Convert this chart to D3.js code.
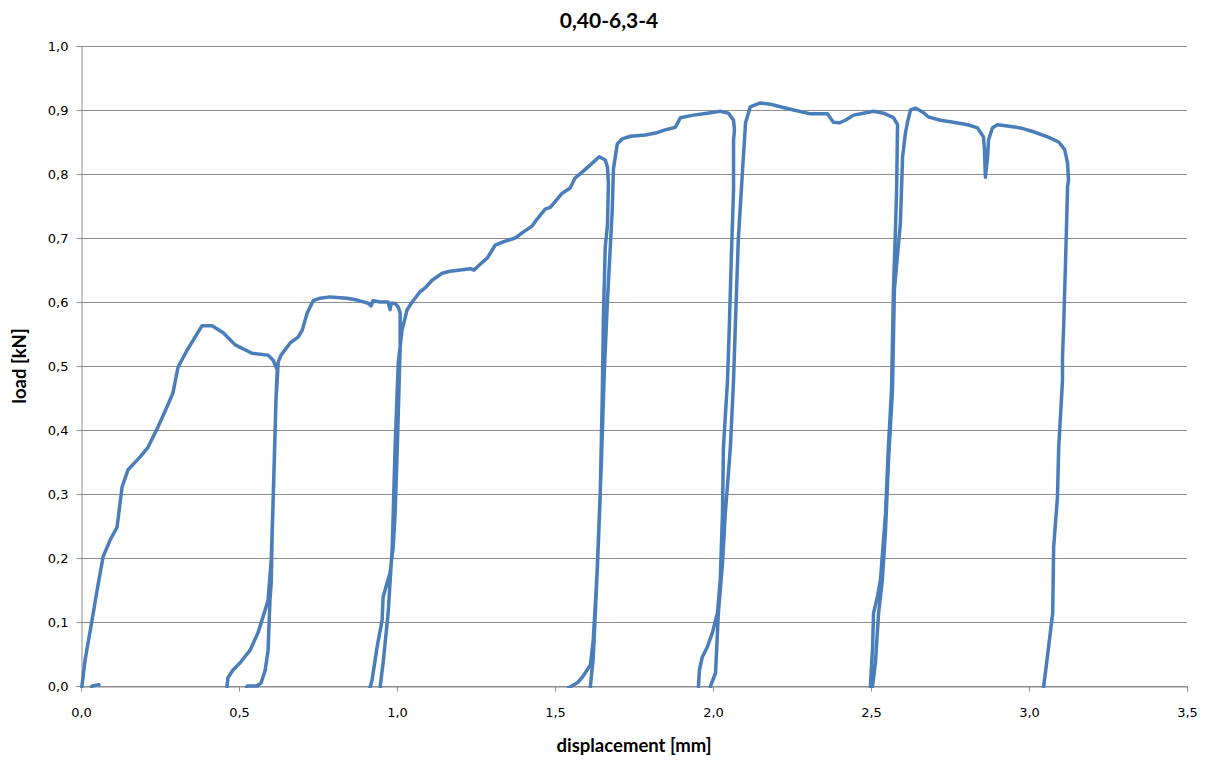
<!DOCTYPE html>
<html lang="en">
  <head>
    <meta charset="utf-8" />
    <title>0,40-6,3-4 load / displacement</title>
    <script src="https://cdn.jsdelivr.net/npm/d3@7"></script>
    <style>
      body { margin: 0; background: #fff; }
      text { fill: #000; }
    </style>
  </head>
  <body>
    <div id="chart"></div>
    <script>
      // chart text
      const chartTitle = "0,40-6,3-4";
      const xTitle = "displacement [mm]";
      const yTitle = "load [kN]";

      // tick values
      const xTicks = [0, 0.5, 1.0, 1.5, 2.0, 2.5, 3.0, 3.5];
      const yTicks = [0, 0.1, 0.2, 0.3, 0.4, 0.5, 0.6, 0.7, 0.8, 0.9, 1.0];

      const dispX = [
        0.057, 0.035, 0.030, 0.002, 0.003, 0.013, 0.035, 0.051, 0.070, 0.092, 0.114, 0.130, 0.149, 0.187, 0.212, 0.244,
        0.272, 0.291, 0.307, 0.336, 0.361, 0.383, 0.415, 0.450, 0.488, 0.541, 0.592, 0.608, 0.621,
        0.617, 0.614, 0.608, 0.602, 0.592, 0.576, 0.560, 0.535, 0.503, 0.481, 0.465, 0.462, 0.462, 0.519, 0.526, 0.557,
        0.570, 0.583, 0.592, 0.598, 0.602, 0.605, 0.611, 0.617, 0.621, 0.624, 0.633, 0.662, 0.687, 0.700, 0.716, 0.735,
        0.757, 0.788, 0.842, 0.874, 0.909, 0.918, 0.924, 0.947, 0.972, 0.978, 0.982, 0.994, 1.004, 1.010,
        1.010, 1.001, 0.994, 0.988, 0.978, 0.956, 0.953, 0.937, 0.921, 0.915, 0.912, 0.947,
        0.947, 0.956, 0.972, 0.985, 0.994, 1.004, 1.016, 1.032, 1.048, 1.073, 1.089, 1.111, 1.143, 1.168, 1.200, 1.232,
        1.244, 1.263, 1.286, 1.311, 1.336, 1.374, 1.396, 1.428, 1.444, 1.469, 1.485, 1.523, 1.548, 1.564, 1.586, 1.618,
        1.640, 1.659, 1.666, 1.669,
        1.666, 1.659, 1.653, 1.650, 1.643, 1.634, 1.621, 1.612, 1.590, 1.571, 1.542, 1.536, 1.612,
        1.612, 1.621, 1.631, 1.647, 1.656, 1.666, 1.675, 1.681, 1.685, 1.697, 1.713, 1.738, 1.786, 1.818, 1.849, 1.881,
        1.897, 1.938, 1.982, 2.023, 2.049, 2.065, 2.068, 2.065,
        2.065, 2.058, 2.052, 2.046, 2.033, 2.030, 2.023, 2.014, 1.998, 1.982, 1.966, 1.957, 1.954, 1.954, 1.992,
        1.992, 2.008, 2.017, 2.030, 2.039, 2.055, 2.065, 2.071, 2.080, 2.093, 2.103, 2.118, 2.150, 2.182, 2.213, 2.255,
        2.308, 2.362, 2.381, 2.400, 2.419, 2.445, 2.476, 2.508, 2.540, 2.571, 2.584,
        2.581, 2.578, 2.571, 2.565, 2.555, 2.546, 2.530, 2.520, 2.508, 2.505, 2.498, 2.498, 2.505,
        2.505, 2.514, 2.524, 2.536, 2.546, 2.555, 2.568, 2.574, 2.593, 2.600, 2.609, 2.615, 2.625, 2.641, 2.663, 2.682,
        2.720, 2.761, 2.806, 2.837, 2.856, 2.859, 2.862, 2.869, 2.872, 2.884, 2.900, 2.932, 2.973, 3.014, 3.059, 3.094,
        3.113, 3.122, 3.125, 3.122,
        3.119, 3.116, 3.110, 3.106, 3.106, 3.094, 3.090, 3.078, 3.075, 3.062, 3.053, 3.046, 3.043
      ];
      const loadKN = [
        0.002, 0.000, -0.010, -0.010, 0.000, 0.041, 0.103, 0.150, 0.202, 0.228, 0.248, 0.311, 0.338, 0.358, 0.373, 0.405,
        0.436, 0.458, 0.498, 0.525, 0.545, 0.563, 0.563, 0.552, 0.533, 0.520, 0.517, 0.509, 0.494,
        0.447, 0.395, 0.291, 0.197, 0.134, 0.108, 0.083, 0.056, 0.036, 0.025, 0.013, 0.000, -0.010, -0.010, 0.000, 0.000,
        0.005, 0.025, 0.056, 0.134, 0.161, 0.239, 0.338, 0.447, 0.478, 0.506, 0.517, 0.536, 0.545, 0.556, 0.583, 0.602,
        0.606, 0.608, 0.606, 0.603, 0.598, 0.594, 0.602, 0.600, 0.600, 0.588, 0.598, 0.598, 0.592, 0.583,
        0.530, 0.373, 0.270, 0.217, 0.177, 0.139, 0.103, 0.061, 0.009, -0.002, -0.010, -0.010,
        0.000, 0.036, 0.114, 0.217, 0.373, 0.505, 0.556, 0.588, 0.600, 0.616, 0.622, 0.634, 0.645, 0.648, 0.650, 0.652,
        0.650, 0.659, 0.669, 0.689, 0.694, 0.700, 0.708, 0.719, 0.730, 0.745, 0.748, 0.770, 0.778, 0.794, 0.803, 0.817,
        0.827, 0.822, 0.811, 0.786,
        0.720, 0.686, 0.573, 0.463, 0.295, 0.183, 0.072, 0.033, 0.016, 0.005, -0.003, -0.010, -0.010,
        0.000, 0.044, 0.150, 0.352, 0.491, 0.602, 0.686, 0.742, 0.808, 0.847, 0.855, 0.859, 0.861, 0.864, 0.869, 0.873,
        0.888, 0.892, 0.895, 0.898, 0.895, 0.884, 0.869, 0.853,
        0.775, 0.670, 0.567, 0.478, 0.373, 0.270, 0.166, 0.114, 0.083, 0.061, 0.045, 0.025, 0.000, -0.010, -0.010,
        0.000, 0.020, 0.114, 0.192, 0.270, 0.373, 0.478, 0.567, 0.697, 0.802, 0.880, 0.905, 0.911, 0.909, 0.905, 0.900,
        0.894, 0.894, 0.881, 0.880, 0.884, 0.892, 0.895, 0.898, 0.895, 0.888, 0.877,
        0.775, 0.723, 0.619, 0.463, 0.373, 0.270, 0.166, 0.139, 0.114, 0.061, -0.001, -0.010, -0.010,
        0.000, 0.036, 0.114, 0.166, 0.244, 0.348, 0.463, 0.619, 0.723, 0.827, 0.864, 0.880, 0.900, 0.903, 0.897, 0.889,
        0.884, 0.881, 0.877, 0.872, 0.858, 0.838, 0.795, 0.827, 0.853, 0.872, 0.877, 0.875, 0.872, 0.866, 0.858, 0.850,
        0.838, 0.817, 0.791, 0.780,
        0.723, 0.670, 0.567, 0.514, 0.478, 0.373, 0.295, 0.217, 0.114, 0.061, 0.025, -0.002, -0.010
      ];

      const w = 1208;
      const h = 762;
      const margin = { top: 46, right: 21, bottom: 76, left: 81 };

      const svg = d3
        .select("#chart")
        .append("svg")
        .attr("width", w)
        .attr("height", h);

      const x = d3.scaleLinear().domain([0, 3.5]).range([margin.left, w - margin.right]);
      const y = d3.scaleLinear().domain([0, 1.0]).range([h - margin.bottom, margin.top]);

      const comma = (v) => d3.format(".1f")(v).replace(".", ",");

      // horizontal gridlines
      svg
        .append("g")
        .selectAll("line")
        .data(yTicks)
        .join("line")
        .attr("x1", x(0))
        .attr("x2", x(3.5))
        .attr("y1", (d) => Math.round(y(d)) + 0.5)
        .attr("y2", (d) => Math.round(y(d)) + 0.5)
        .attr("stroke", "#8c8c8c")
        .attr("stroke-width", 1);

      // y axis
      const yAxis = svg
        .append("g")
        .attr("transform", `translate(${x(0) + 0.5},0)`)
        .call(
          d3.axisLeft(y).tickValues(yTicks).tickFormat(comma).tickSize(5).tickPadding(8)
        );
      yAxis.select(".domain").attr("stroke", "#8c8c8c");
      yAxis.selectAll(".tick line").attr("stroke", "#8c8c8c");
      yAxis
        .selectAll(".tick text")
        .attr("font-family", "DejaVu Sans, Verdana, sans-serif")
        .attr("font-size", 13);

      // x axis
      const xAxis = svg
        .append("g")
        .attr("transform", `translate(0,${Math.round(y(0)) + 0.5})`)
        .call(
          d3.axisBottom(x).tickValues(xTicks).tickFormat(comma).tickSize(5).tickPadding(16)
        );
      xAxis.select(".domain").attr("stroke", "#8c8c8c");
      xAxis.selectAll(".tick line").attr("stroke", "#8c8c8c");
      xAxis
        .selectAll(".tick text")
        .attr("font-family", "DejaVu Sans, Verdana, sans-serif")
        .attr("font-size", 13);

      // clip like excel does at the plot area
      svg
        .append("clipPath")
        .attr("id", "plot-clip")
        .append("rect")
        .attr("x", x(0) - 2)
        .attr("y", y(1.0))
        .attr("width", x(3.5) - x(0) + 2)
        .attr("height", y(0) - y(1.0) + 2);

      const pts = dispX.map((d, i) => [d, loadKN[i]]);
      const line = d3
        .line()
        .x((d) => x(d[0]))
        .y((d) => y(d[1]));

      svg
        .append("path")
        .datum(pts)
        .attr("clip-path", "url(#plot-clip)")
        .attr("d", line)
        .attr("fill", "none")
        .attr("stroke", "#4a7ebb")
        .attr("stroke-width", 3.5)
        .attr("stroke-linejoin", "round")
        .attr("stroke-linecap", "round");

      // titles
      svg
        .append("text")
        .attr("x", 609)
        .attr("y", 28)
        .attr("text-anchor", "middle")
        .attr("font-family", "Lato, Open Sans, sans-serif")
        .attr("font-weight", "bold")
        .attr("font-size", 21)
        .text(chartTitle);

      svg
        .append("text")
        .attr("x", x(1.75))
        .attr("y", 752)
        .attr("text-anchor", "middle")
        .attr("font-family", "Lato, Open Sans, sans-serif")
        .attr("font-weight", "bold")
        .attr("font-size", 18.5)
        .text(xTitle);

      svg
        .append("text")
        .attr("transform", `translate(26,${y(0.5)}) rotate(-90)`)
        .attr("text-anchor", "middle")
        .attr("font-family", "Lato, Open Sans, sans-serif")
        .attr("font-weight", "bold")
        .attr("font-size", 18.5)
        .text(yTitle);
    </script>
  </body>
</html>
